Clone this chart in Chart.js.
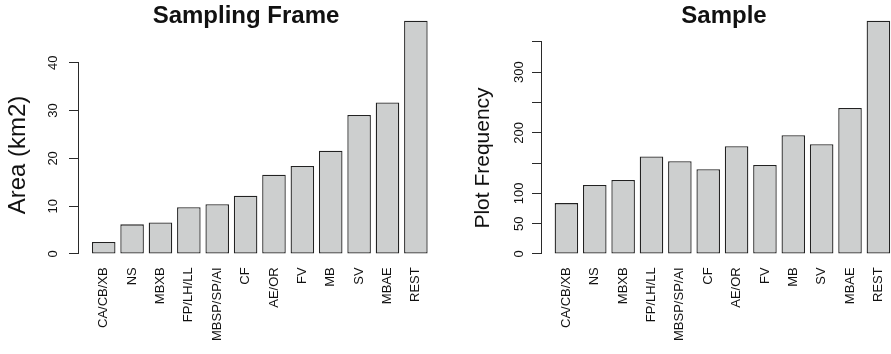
<!DOCTYPE html>
<html>
<head>
<meta charset="utf-8">
<script src="https://cdn.jsdelivr.net/npm/chart.js@4.4.1/dist/chart.umd.min.js"></script>
<style>
  html, body { margin: 0; padding: 0; background: #fff; overflow: hidden; }
  #wrap { position: relative; width: 891px; height: 354px; overflow: hidden; }
  #left { position: absolute; left: 0; top: 0; }
  #right { position: absolute; left: 445px; top: 0; }
</style>
</head>
<body>
<div id="wrap">
  <canvas id="left" width="492" height="354"></canvas>
  <canvas id="right" width="558" height="354"></canvas>
</div>
<script>
// categories, shared by both panels
var categories = ["CA/CB/XB", "NS", "MBXB", "FP/LH/LL", "MBSP/SP/AI", "CF", "AE/OR", "FV", "MB", "SV", "MBAE", "REST"];

// left panel: sampling frame area (km2)
var areaKm2 = [2.5, 6.2, 6.6, 9.8, 10.4, 12.2, 16.6, 18.4, 21.6, 29.1, 31.7, 48.8];
var areaTicks = [0, 10, 20, 30, 40];
var areaTickLabels = ["0", "10", "20", "30", "40"];

// right panel: sample plot frequency
var plotFrequency = [84, 114, 122, 161, 153, 140, 178, 147, 196, 181, 241, 385];
var freqTicks = [0, 50, 100, 150, 200, 250, 300, 350];
var freqTickLabels = ["0", "50", "100", "", "200", "", "300", ""];

var FONT = '"Liberation Sans", Arial, Helvetica, sans-serif';
var INK = '#111';

// R style y axis line: only from first to last tick
var axisLine = {
    id: 'axisLine',
    afterDraw: function (chart) {
        var s = chart.scales.y;
        var ctx = chart.ctx;
        var x = Math.round(s.right - 0.5) + 0.5;
        var y0 = Math.round(s.getPixelForValue(s.ticks[0].value) - 0.5) + 1;
        var y1 = Math.round(s.getPixelForValue(s.ticks[s.ticks.length - 1].value) - 0.5);
        ctx.save();
        ctx.strokeStyle = '#2a2a2a';
        ctx.lineWidth = 1;
        ctx.beginPath();
        ctx.moveTo(x, y0);
        ctx.lineTo(x, y1);
        ctx.stroke();
        ctx.restore();
    }
};

// rotated y axis title
var yTitle = {
    id: 'yTitle',
    afterDraw: function (chart, args, opts) {
        var ctx = chart.ctx;
        ctx.save();
        ctx.translate(opts.x, opts.y);
        ctx.rotate(-Math.PI / 2);
        ctx.font = opts.size + 'px ' + FONT;
        ctx.fillStyle = INK;
        ctx.textAlign = 'center';
        ctx.textBaseline = 'middle';
        ctx.fillText(opts.text, 0, 0);
        ctx.restore();
    }
};

function barPanel(id, p) {
    var ctx = document.getElementById(id).getContext('2d');
    var top = Math.max.apply(null, p.values);
    return new Chart(ctx, {
        type: 'bar',
        data: {
            datasets: [{
                data: p.values.map(function (v, i) { return { x: i, y: v }; }),
                backgroundColor: '#cdcfcf',
                borderColor: '#222',
                borderWidth: 1.3,
                borderSkipped: false,
                barPercentage: 0.83,
                categoryPercentage: 1
            }]
        },
        options: {
            responsive: false,
            animation: false,
            layout: { autoPadding: false, padding: 0 },
            plugins: {
                legend: { display: false },
                tooltip: { enabled: false },
                title: {
                    display: true,
                    text: p.title,
                    color: INK,
                    font: { family: FONT, size: 24, weight: 'bold' },
                    padding: { top: 2, bottom: -19.4 }
                },
                yTitle: { text: p.ylab, size: p.ylabSize, x: p.ylabX, y: p.ylabY }
            },
            scales: {
                x: {
                    type: 'linear',
                    offset: false,
                    min: p.xMin,
                    max: p.xMax,
                    grid: { display: false, drawTicks: false },
                    border: { display: false },
                    afterBuildTicks: function (s) {
                        s.ticks = categories.map(function (c, i) { return { value: i }; });
                    },
                    afterFit: function (s) {
                        s.height = 90.7;
                        s.paddingLeft = 0;
                        s.paddingRight = 0;
                    },
                    ticks: {
                        autoSkip: false,
                        minRotation: 90,
                        maxRotation: 90,
                        padding: 4,
                        color: INK,
                        font: { family: FONT, size: 13 },
                        callback: function (v) { return categories[v]; }
                    }
                },
                y: {
                    min: -0.04 * top,
                    max: 1.04 * top,
                    grid: { display: true, drawOnChartArea: false, drawTicks: true, tickLength: 9, color: '#2a2a2a', lineWidth: 1 },
                    border: { display: false },
                    afterBuildTicks: function (s) {
                        s.ticks = p.ticks.map(function (v) { return { value: v }; });
                    },
                    afterFit: function (s) {
                        s.width = p.axisX;
                        s.paddingTop = 0;
                        s.paddingBottom = 0;
                    },
                    ticks: {
                        autoSkip: false,
                        minRotation: 90,
                        maxRotation: 90,
                        crossAlign: 'center',
                        padding: p.tickPad,
                        color: INK,
                        font: { family: FONT, size: 13 },
                        callback: function (v, i) { return p.tickLabels[i]; }
                    }
                }
            }
        },
        plugins: [axisLine, yTitle]
    });
}

barPanel('left', {
    title: 'Sampling Frame',
    values: areaKm2,
    ticks: areaTicks,
    tickLabels: areaTickLabels,
    ylab: 'Area (km2)', ylabSize: 24, ylabX: 18.5, ylabY: 155,
    axisX: 78, tickPad: 8.8,
    xMin: -0.906, xMax: 13.683
});

barPanel('right', {
    title: 'Sample',
    values: plotFrequency,
    ticks: freqTicks,
    tickLabels: freqTickLabels,
    ylab: 'Plot Frequency', ylabSize: 21, ylabX: 38, ylabY: 158,
    axisX: 96, tickPad: 2.2,
    xMin: -0.896, xMax: 15.394
});
</script>
</body>
</html>
